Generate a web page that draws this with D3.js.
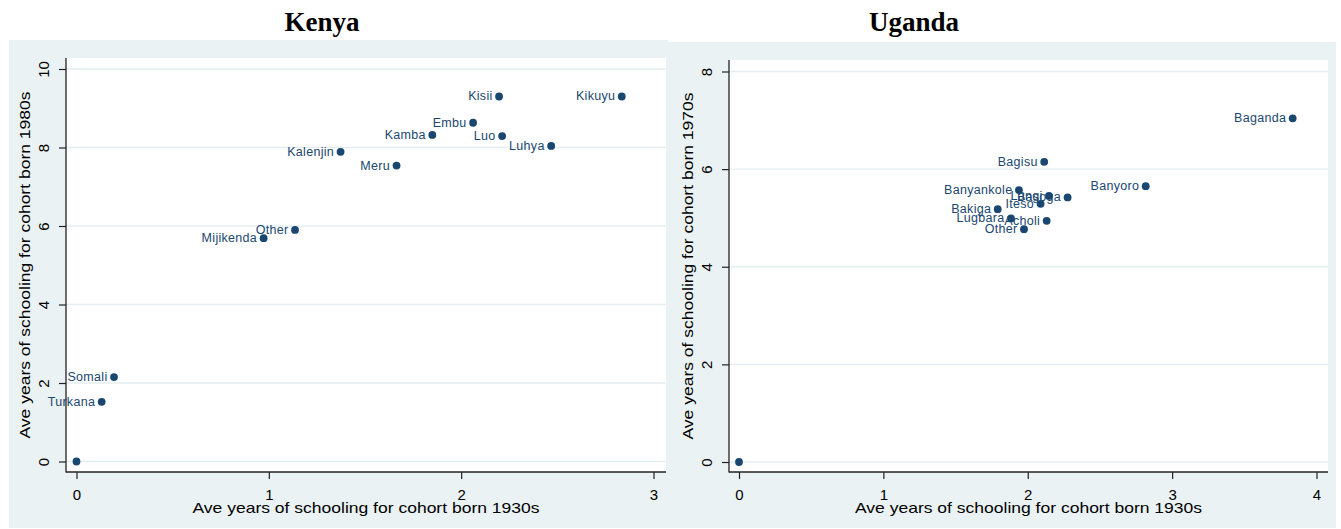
<!DOCTYPE html>
<html>
<head>
<meta charset="utf-8">
<script src="https://cdn.jsdelivr.net/npm/d3@7"></script>
<style>
  html, body { margin: 0; padding: 0; background: #ffffff; }
  svg { display: block; }
  text { font-family: "Liberation Sans", Arial, sans-serif; }
</style>
</head>
<body>
<svg id="chart" width="1341" height="529"></svg>
<script>
// ---------------- DATA ----------------
const kenyaGroups = ["Kikuyu", "Kisii", "Embu", "Kamba", "Luo", "Luhya", "Kalenjin", "Meru", "Other", "Mijikenda", "Somali", "Turkana", ""];
const kenya1930s  = [2.835, 2.197, 2.062, 1.850, 2.213, 2.468, 1.373, 1.664, 1.136, 0.973, 0.195, 0.131, 0];
const kenya1980s  = [9.30, 9.30, 8.63, 8.32, 8.29, 8.04, 7.89, 7.54, 5.90, 5.69, 2.15, 1.52, 0];

const ugandaGroups = ["Baganda", "Banyoro", "Bagisu", "Banyankole", "Langi", "Basoga", "Iteso", "Bakiga", "Lugbara", "Acholi", "Other", ""];
const uganda1930s  = [3.835, 2.817, 2.114, 1.939, 2.147, 2.276, 2.089, 1.792, 1.884, 2.131, 1.974, 0];
const uganda1970s  = [7.04, 5.65, 6.15, 5.57, 5.45, 5.42, 5.29, 5.18, 4.99, 4.94, 4.77, 0];

const kenyaXTicks = [0, 1, 2, 3];
const kenyaYTicks = [0, 2, 4, 6, 8, 10];
const ugandaXTicks = [0, 1, 2, 3, 4];
const ugandaYTicks = [0, 2, 4, 6, 8];

const xTitle = "Ave years of schooling for cohort born 1930s";
const kenyaYTitle = "Ave years of schooling for cohort born 1980s";
const ugandaYTitle = "Ave years of schooling for cohort born 1970s";

// ---------------- LAYOUT ----------------
const svg = d3.select("#chart");
const BG = "#eaf2f3";
const MARK = "#1a476f";

const panels = [
  {
    title: "Kenya", titleX: 322,
    bg: {x: 9, y: 40, w: 659, h: 488},
    plot: {x0: 66, x1: 666, y0: 58, y1: 472},
    xDom: [0, 3], xRange: [76.5, 653.5],
    yDom: [0, 10], yRange: [461.5, 69],
    xTicks: kenyaXTicks, yTicks: kenyaYTicks,
    groups: kenyaGroups, xs: kenya1930s, ys: kenya1980s,
    yTitle: kenyaYTitle
  },
  {
    title: "Uganda", titleX: 914,
    bg: {x: 668, y: 42, w: 668, h: 486},
    plot: {x0: 729, x1: 1328, y0: 60, y1: 472},
    xDom: [0, 4], xRange: [739, 1316.5],
    yDom: [0, 8], yRange: [462, 71.5],
    xTicks: ugandaXTicks, yTicks: ugandaYTicks,
    groups: ugandaGroups, xs: uganda1930s, ys: uganda1970s,
    yTitle: ugandaYTitle
  }
];

panels.forEach(p => {
  const g = svg.append("g");
  // graph region background
  g.append("rect").attr("x", p.bg.x).attr("y", p.bg.y)
    .attr("width", p.bg.w).attr("height", p.bg.h).attr("fill", BG);
  // plot region
  g.append("rect").attr("x", p.plot.x0).attr("y", p.plot.y0)
    .attr("width", p.plot.x1 - p.plot.x0).attr("height", p.plot.y1 - p.plot.y0)
    .attr("fill", "#ffffff");

  // title
  svg.append("text").attr("x", p.titleX).attr("y", 31)
    .attr("text-anchor", "middle")
    .style("font-family", "'Liberation Serif', 'Times New Roman', serif")
    .style("font-weight", "bold").style("font-size", "27px")
    .attr("fill", "#000").text(p.title);

  const x = d3.scaleLinear().domain(p.xDom).range(p.xRange);
  const y = d3.scaleLinear().domain(p.yDom).range(p.yRange);

  // gridlines
  g.append("g").selectAll("line").data(p.yTicks).join("line")
    .attr("x1", p.plot.x0).attr("x2", p.plot.x1)
    .attr("y1", d => y(d)).attr("y2", d => y(d))
    .attr("stroke", "#e4eef0").attr("stroke-width", 1.3);

  // y axis
  const ya = g.append("g").attr("transform", `translate(${p.plot.x0},0)`)
    .call(d3.axisLeft(y).tickValues(p.yTicks).tickSize(7).tickSizeOuter(0).tickFormat(d3.format("d")));
  ya.select(".domain").remove();
  ya.selectAll(".tick line").attr("stroke", "#222").attr("stroke-width", 1.2);
  ya.selectAll(".tick text")
    .attr("x", null).attr("dy", null)
    .attr("transform", "translate(-23,0) rotate(-90)")
    .attr("text-anchor", "middle").attr("dominant-baseline", "central")
    .style("font-size", "15px").attr("fill", "#000");
  g.append("line").attr("x1", p.plot.x0).attr("x2", p.plot.x0)
    .attr("y1", p.plot.y0).attr("y2", p.plot.y1 + 0.6)
    .attr("stroke", "#222").attr("stroke-width", 1.3);

  // x axis
  const xa = g.append("g").attr("transform", `translate(0,${p.plot.y1})`)
    .call(d3.axisBottom(x).tickValues(p.xTicks).tickSize(7).tickSizeOuter(0).tickFormat(d3.format("d")));
  xa.select(".domain").remove();
  xa.selectAll(".tick line").attr("stroke", "#222").attr("stroke-width", 1.2);
  xa.selectAll(".tick text").attr("y", 28).attr("dy", null)
    .style("font-size", "15px").attr("fill", "#000");
  g.append("line").attr("x1", p.plot.x0).attr("x2", p.plot.x1)
    .attr("y1", p.plot.y1).attr("y2", p.plot.y1)
    .attr("stroke", "#222").attr("stroke-width", 1.3);

  // axis titles
  const cx = (p.plot.x0 + p.plot.x1) / 2;
  g.append("text").attr("x", cx).attr("y", 513).attr("text-anchor", "middle")
    .attr("textLength", 347).attr("lengthAdjust", "spacingAndGlyphs")
    .style("font-size", "14.5px").attr("fill", "#000").text(xTitle);
  const cy = (p.plot.y0 + p.plot.y1) / 2;
  g.append("text").attr("transform", `translate(${p.plot.x0 - 41},${cy}) rotate(-90)`)
    .attr("text-anchor", "middle").attr("dominant-baseline", "central")
    .attr("textLength", 347).attr("lengthAdjust", "spacingAndGlyphs")
    .style("font-size", "14.5px").attr("fill", "#000").text(p.yTitle);

  // points
  const idx = d3.range(p.groups.length);
  g.append("g").selectAll("circle").data(idx).join("circle")
    .attr("cx", i => x(p.xs[i])).attr("cy", i => y(p.ys[i]))
    .attr("r", 3.9).attr("fill", MARK);
  // labels (position 9 o'clock)
  g.append("g").selectAll("text").data(idx).join("text")
    .attr("x", i => x(p.xs[i]) - 6.5).attr("y", i => y(p.ys[i]))
    .attr("text-anchor", "end").attr("dominant-baseline", "central")
    .style("font-size", "12.5px").style("letter-spacing", "0.3px")
    .attr("fill", MARK).text(i => p.groups[i]);
});
</script>
</body>
</html>
